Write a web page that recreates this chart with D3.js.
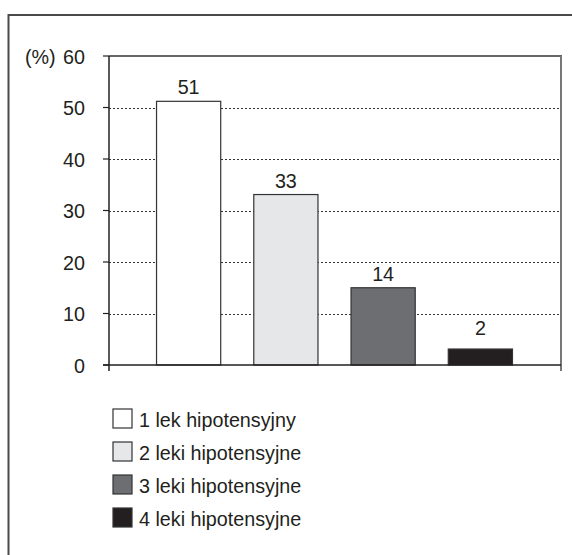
<!DOCTYPE html>
<html><head><meta charset="utf-8">
<script src="https://cdn.jsdelivr.net/npm/d3@7"></script>
<style>
html,body{margin:0;padding:0;background:#fff;overflow:hidden}
text{font-family:"Liberation Sans",Arial,sans-serif;fill:#231f20}
</style></head>
<body><svg id="c" width="572" height="555"></svg>
<script>
const categories = ["1 lek hipotensyjny","2 leki hipotensyjne","3 leki hipotensyjne","4 leki hipotensyjne"];
const values = [51.2, 33.1, 15, 3.1];
const valueLabels = ["51","33","14","2"];
const colors = ["#ffffff","#e6e7e8","#6d6e71","#231f20"];
const yTicks = [0,10,20,30,40,50,60];

const svg = d3.select("#c");
const fs = 21;
const sx = 0.94;

// outer frame
svg.append("path").attr("d","M8.5,560 V15 H580").attr("fill","none").attr("stroke","#4a4a4a").attr("stroke-width",2);

const y = d3.scaleLinear().domain([0,60]).range([365,56]);
const x = d3.scaleBand().domain(categories).range([140,529]).paddingInner(0.34).paddingOuter(0.17);
const xL = 109, xR = 561;

// gridlines
svg.append("g").selectAll("line").data(yTicks.filter(t=>t>0&&t<60)).join("line")
  .attr("x1",xL).attr("x2",xR).attr("y1",d=>Math.round(y(d))+0.5).attr("y2",d=>Math.round(y(d))+0.5)
  .attr("stroke","#333").attr("stroke-width",1).attr("stroke-dasharray","2,2");

// box top and right
svg.append("line").attr("x1",xL).attr("x2",xR+1).attr("y1",y(60)).attr("y2",y(60)).attr("stroke","#333").attr("stroke-width",1.5);
svg.append("line").attr("x1",xR).attr("x2",xR).attr("y1",y(60)).attr("y2",y(0)+6).attr("stroke","#777").attr("stroke-width",2);

// bars
svg.append("g").selectAll("rect").data(categories).join("rect")
  .attr("x",d=>x(d)).attr("width",x.bandwidth())
  .attr("y",(d,i)=>y(values[i])).attr("height",(d,i)=>y(0)-y(values[i]))
  .attr("fill",(d,i)=>colors[i]).attr("stroke","#333").attr("stroke-width",1.2);

// value labels
svg.append("g").selectAll("text").data(categories).join("text")
  .attr("transform",(d,i)=>`translate(${x(d)+x.bandwidth()/2},${y(values[i])-(i===3?14:7)}) scale(${sx},1)`)
  .attr("text-anchor","middle").attr("font-size",fs).text((d,i)=>valueLabels[i]);

// y axis
svg.append("g").selectAll("line").data(yTicks).join("line")
  .attr("x1",xL-6).attr("x2",xL).attr("y1",d=>y(d)).attr("y2",d=>y(d))
  .attr("stroke","#231f20").attr("stroke-width",1.2);
svg.append("g").selectAll("text").data(yTicks).join("text")
  .attr("transform",d=>`translate(85,${y(d)+7.5}) scale(${sx},1)`)
  .attr("text-anchor","end").attr("font-size",fs).text(d=>d);
svg.append("line").attr("x1",xL).attr("x2",xL).attr("y1",y(60)).attr("y2",y(0)+6).attr("stroke","#231f20").attr("stroke-width",1.5);
// x axis baseline
svg.append("line").attr("x1",xL-6).attr("x2",xR).attr("y1",y(0)).attr("y2",y(0)).attr("stroke","#231f20").attr("stroke-width",1.5);

svg.append("text").attr("transform",`translate(25,${y(60)+7.5}) scale(${sx},1)`).attr("font-size",fs).text("(%)");

// legend
const lg = svg.append("g").selectAll("g").data(categories).join("g")
  .attr("transform",(d,i)=>`translate(113,${409+i*33})`);
lg.append("rect").attr("width",19).attr("height",19).attr("fill",(d,i)=>colors[i]).attr("stroke","#333").attr("stroke-width",1.2);
lg.append("text").attr("transform",`translate(26,18) scale(${sx},1)`).attr("font-size",fs).text(d=>d);
</script></body></html>
